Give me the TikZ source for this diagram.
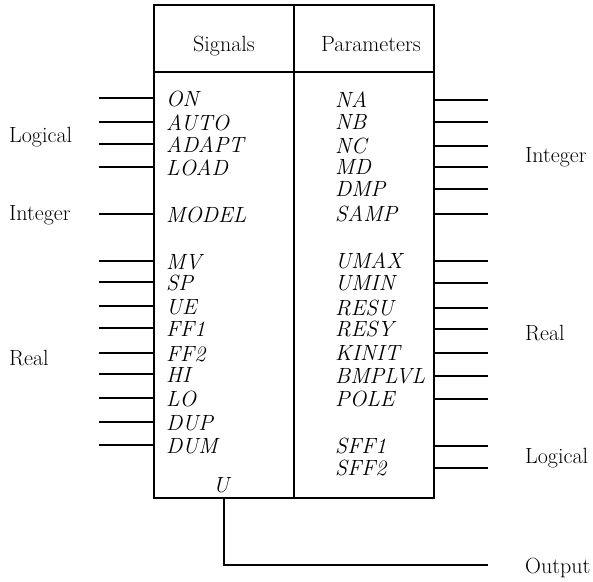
\documentclass[tikz,border=0pt]{standalone}
\begin{document}
\begin{tikzpicture}[x=1pt,y=-1pt,
  port/.style={line width=1.1pt},
  lbl/.style={inner sep=0pt,font=\fontsize{22}{26}\selectfont\itshape,anchor=west},
  grp/.style={inner sep=0pt,font=\fontsize{22}{26}\selectfont,anchor=west},
  hdr/.style={inner sep=0pt,font=\fontsize{22}{26}\selectfont,anchor=base}]
\useasboundingbox (0,0) rectangle (593,581);
% box
\coordinate (tl) at (154,5);
\coordinate (br) at (434,498);
\coordinate (mt) at (294,5);
\coordinate (mb) at (294,498);
\coordinate (hl) at (154,72);
\coordinate (hr) at (434,72);
\draw[line width=1.3pt] (tl) rectangle (br);
\draw[line width=1.3pt] (mt) -- (mb);
\draw[line width=1.3pt] (hl) -- (hr);
\node[hdr] (sig) at (224,51) {Signals};
\node[hdr] (par) at (371,51) {Parameters};
% left ports
\foreach \n/\t/\y in {on/ON/98,auto/AUTO/122,adapt/ADAPT/144,load/LOAD/167,model/MODEL/214,
  mv/MV/261,sp/SP/282,ue/UE/306,ffa/FF1/328,ffb/FF2/353,hi/HI/374,lo/LO/398,dup/DUP/422,dum/DUM/445}{
  \node[lbl] (\n) at (166,\y+1) {\t};
  \coordinate (\n s) at (99,\y);
  \coordinate (\n e) at (154,\y);
  \draw[port] (\n s) -- (\n e);
}
% right ports
\foreach \n/\t/\y in {na/NA/100,nb/NB/122,nc/NC/146,md/MD/167,dmp/DMP/189,samp/SAMP/214,
  umax/UMAX/261,umin/UMIN/283,resu/RESU/308,resy/RESY/329,kinit/KINIT/353,bmp/BMPLVL/376,pole/POLE/399,
  sffa/SFF1/446,sffb/SFF2/468}{
  \node[lbl] (\n) at (335,\y) {\t};
  \coordinate (\n s) at (434,\y);
  \coordinate (\n e) at (488,\y);
  \draw[port] (\n s) -- (\n e);
}
% group labels
\node[grp] (glog) at (9,137) {Logical};
\node[grp] (gint) at (9,215) {Integer};
\node[grp] (greal) at (9,358) {Real};
\node[grp] (rint) at (525,157) {Integer};
\node[grp] (rreal) at (525,333) {Real};
\node[grp] (rlog) at (525,458) {Logical};
\node[grp] (out) at (525,568) {Output};
% output
\node[lbl,anchor=center] (u) at (221,485) {U};
\coordinate (us) at (224,498);
\coordinate (ue) at (488,565);
\draw[line width=1.6pt] (us) |- (ue);
\end{tikzpicture}
\end{document}
